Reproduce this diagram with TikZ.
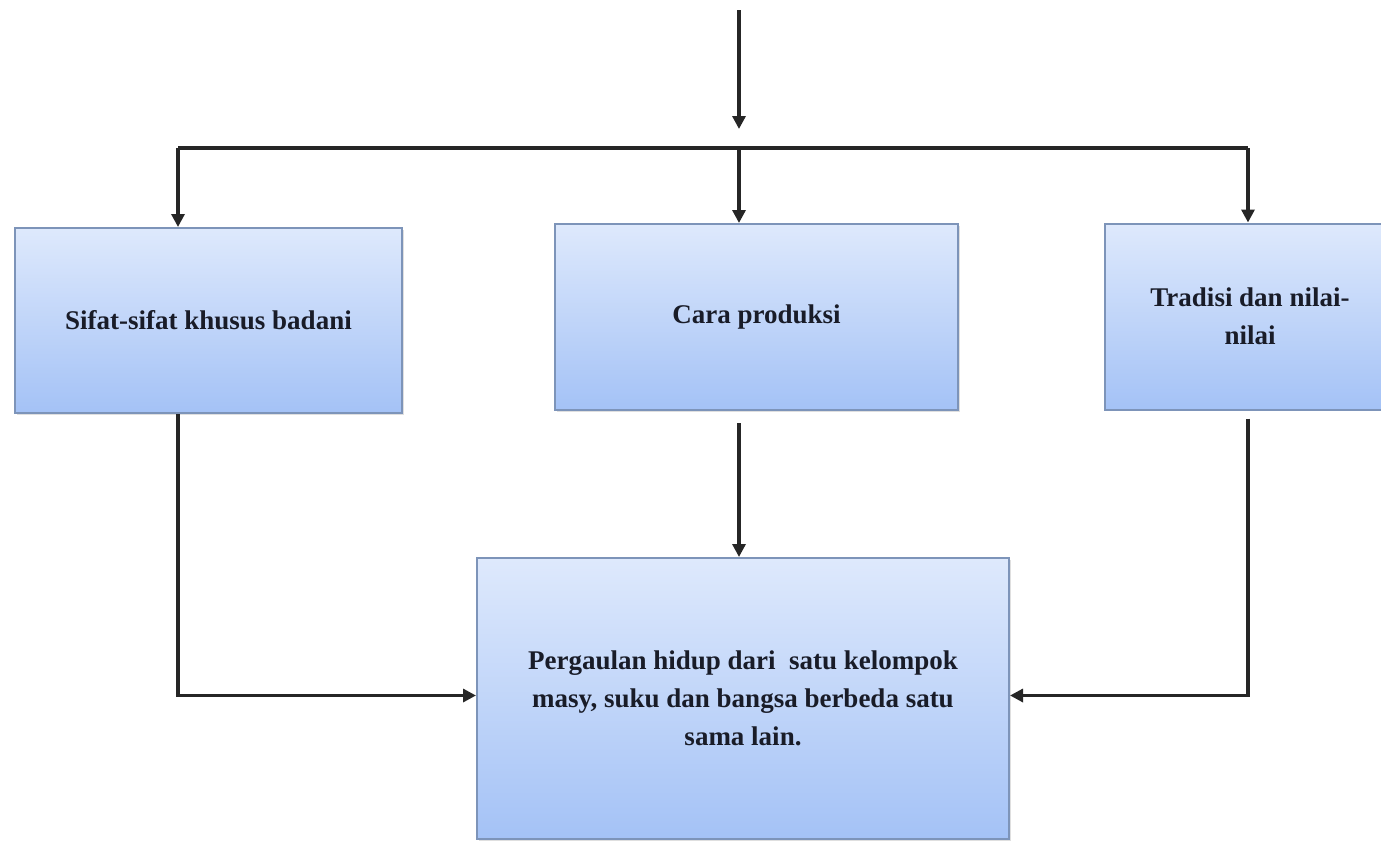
\documentclass[tikz,border=0pt]{standalone}
\usepackage{fontspec}
\setmainfont{Liberation Serif}
\usetikzlibrary{arrows.meta,shadows}
\definecolor{boxtop}{RGB}{222,233,252}
\definecolor{boxbot}{RGB}{164,194,246}
\definecolor{boxline}{RGB}{125,148,185}
\definecolor{txt}{RGB}{25,28,40}
\tikzset{
  box/.style={draw=boxline, line width=1pt, top color=boxtop, bottom color=boxbot,
    inner sep=0pt, align=center, text=txt,
    font=\fontsize{13.5pt}{19pt}\selectfont\bfseries,
    drop shadow={shadow xshift=0.8pt, shadow yshift=-0.8pt, opacity=0.25}},
  conn/.style={line width=1.6pt, black!85},
  arr/.style={conn, -{Triangle[width=6.5pt,length=6.5pt]}}
}
\begin{document}
\begin{tikzpicture}[x=0.5pt,y=-0.5pt]
\useasboundingbox (0,0) rectangle (1381,841);
\node[box, minimum width=193.5pt, minimum height=92.5pt] (lb) at (208.5,320.5) {Sifat-sifat khusus badani};
\node[box, minimum width=201.5pt, minimum height=93pt] (cb) at (756.5,317) {Cara produksi};
\node[box, minimum width=145pt, minimum height=93pt] (rb) at (1250,316.5) {Tradisi dan nilai-\\nilai};
\node[box, minimum width=266pt, minimum height=140.5pt] (bb) at (743,698.5) {Pergaulan hidup dari \ satu kelompok\\masy, suku dan bangsa berbeda satu\\sama lain.};
\coordinate (top) at (739,10);
\coordinate (topend) at (739,129);
\coordinate (jl) at (178,148);
\coordinate (jc) at (739,148);
\coordinate (jr) at (1248,148);
\draw[arr] (top) -- (topend);
\draw[conn] (jl) -- (jr);
\draw[arr] (jl) -- (jl |- lb.north);
\draw[arr] (jc) -- (jc |- cb.north);
\draw[arr] (jr) -- (jr |- rb.north);
\draw[arr, shorten <=6pt] (jc |- cb.south) -- (jc |- bb.north);
\draw[arr] (jl |- lb.south) -- ([yshift=1.5pt]jl |- bb.west) -- ([yshift=1.5pt]bb.west);
\draw[arr, shorten <=4pt] (jr |- rb.south) -- ([yshift=1.5pt]jr |- bb.east) -- ([yshift=1.5pt]bb.east);
\end{tikzpicture}
\end{document}
